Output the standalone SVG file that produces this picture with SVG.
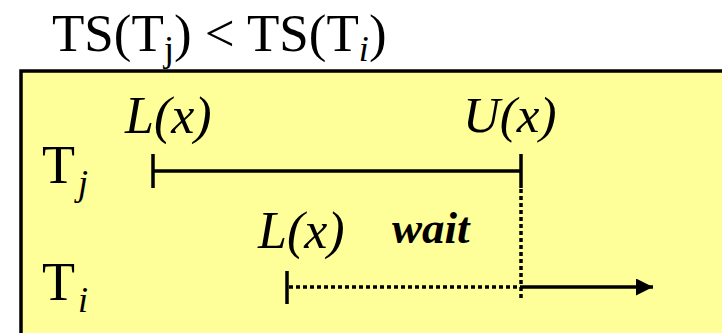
<svg xmlns="http://www.w3.org/2000/svg" width="722" height="333" viewBox="0 0 722 333">
<style>
.t{font-family:"Liberation Serif","Times New Roman",serif;fill:#000}
.it{font-style:italic}
.sub{font-size:36px}
.solid{stroke:#000;stroke-width:3.5;fill:none}
.dot{stroke:#000;stroke-width:3.5;stroke-dasharray:4 3;fill:none}
</style>
<defs>
<marker id="ah" markerWidth="18" markerHeight="18" refX="17" refY="8.5" orient="auto" markerUnits="userSpaceOnUse">
<path d="M0,0 L17,8.5 L0,17 Z" fill="#000"/>
</marker>
</defs>
<rect width="722" height="333" fill="#fff"/>
<text class="t" x="52" y="51" font-size="53">TS(T<tspan class="sub" dy="10">j</tspan><tspan dy="-10">) &lt; TS(T</tspan><tspan class="sub it" dy="10">i</tspan><tspan dy="-10">)</tspan></text>
<g id="frame">
<rect x="21" y="71" width="740" height="300" fill="#ffff99" stroke="#000" stroke-width="3.5"/>
</g>
<g id="Tj">
<text class="t" x="42" y="183" font-size="54">T<tspan class="sub it" dx="3" dy="12" font-size="42">j</tspan></text>
</g>
<g id="Ti">
<text class="t" x="42" y="300" font-size="54">T<tspan class="sub it" dx="3" dy="12" font-size="42">i</tspan></text>
</g>
<g id="labels">
<text class="t it" x="125" y="133" font-size="52">L(x)</text>
<text class="t it" x="463" y="132" font-size="51">U(x)</text>
<text class="t it" x="258" y="248" font-size="52">L(x)</text>
<text class="t it" x="392" y="243" font-size="45" font-weight="bold">wait</text>
</g>
<g id="connectors">
<line class="solid" x1="153" y1="154" x2="153" y2="188"/>
<line class="solid" x1="153" y1="171" x2="521" y2="171"/>
<line class="solid" x1="521" y1="154" x2="521" y2="188"/>
<line class="dot" x1="521" y1="189" x2="521" y2="301"/>
<line class="solid" x1="287" y1="271" x2="287" y2="304"/>
<line class="dot" x1="289" y1="287" x2="521" y2="287"/>
<line class="solid" x1="521" y1="287" x2="653" y2="287" marker-end="url(#ah)"/>
</g>
</svg>
